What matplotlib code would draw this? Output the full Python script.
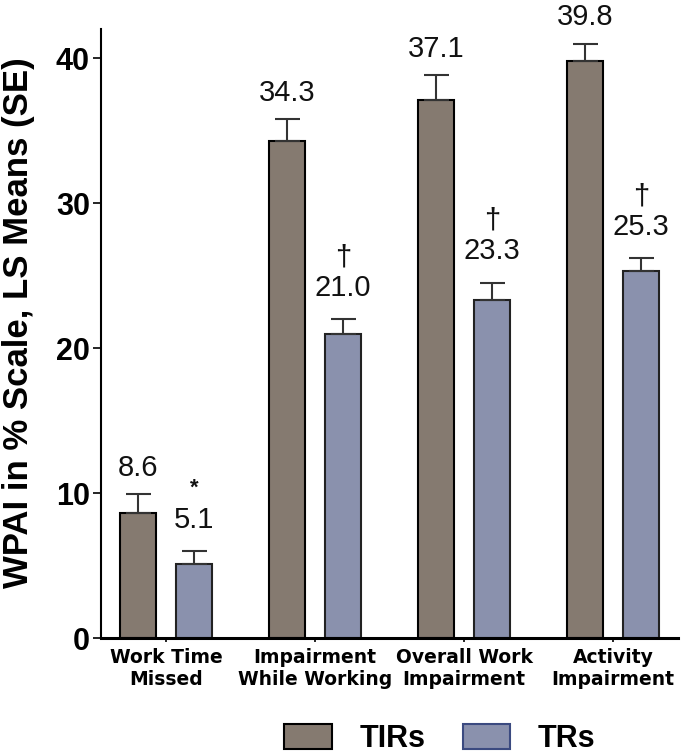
import matplotlib
matplotlib.use("Agg")
import matplotlib.pyplot as plt
import numpy as np
from matplotlib.patches import Patch

categories = ["Work Time\nMissed", "Impairment\nWhile Working", "Overall Work\nImpairment", "Activity\nImpairment"]
tir_values = [8.6, 34.3, 37.1, 39.8]
tr_values = [5.1, 21.0, 23.3, 25.3]
tir_se = [1.3, 1.5, 1.7, 1.2]
tr_se = [0.9, 1.0, 1.2, 0.9]
tr_marks = ["*", "\u2020", "\u2020", "\u2020"]
series_names = ["TIRs", "TRs"]
yticks = [0, 10, 20, 30, 40]

tir_color = "#857a70"
tr_color = "#8a91ad"

plt.rcParams['font.family'] = ['Liberation Sans', 'DejaVu Sans']

fig = plt.figure(figsize=(6.85, 7.53), dpi=100)
ax = fig.add_axes([101/685, 1-638/753, (678-101)/685, (638-29)/753])

x = np.arange(len(categories))
w = 0.24
off = 0.188

err_kw = dict(ecolor="#333333", elinewidth=1.5, capsize=9, capthick=1.5)
ax.bar(x - off, tir_values, w, color=tir_color, edgecolor="black", linewidth=1.5,
       yerr=[np.zeros(4), tir_se], error_kw=err_kw, zorder=2)
ax.bar(x + off, tr_values, w, color=tr_color, edgecolor="#222222", linewidth=1.5,
       yerr=[np.zeros(4), tr_se], error_kw=err_kw, zorder=2)

for i in range(len(categories)):
    ax.text(x[i] - off, tir_values[i] + tir_se[i] + 0.85, f"{tir_values[i]:.1f}",
            ha="center", va="bottom", fontsize=21, color="#111111")
    ax.text(x[i] + off, tr_values[i] + tr_se[i] + 1.2, f"{tr_values[i]:.1f}",
            ha="center", va="bottom", fontsize=21, color="#111111")
    if tr_marks[i] == "*":
        ax.text(x[i] + off, tr_values[i] + tr_se[i] + 3.6, "*",
                ha="center", va="bottom", fontsize=16, fontweight="bold", color="#111111")
    else:
        ax.text(x[i] + off, tr_values[i] + tr_se[i] + 3.3, "\u2020",
                ha="center", va="bottom", fontsize=21, color="#111111")

ax.set_xlim(-0.436, 3.436)
ax.set_ylim(0, 42)
ax.set_yticks(yticks)
ax.set_yticklabels([str(t) for t in yticks], fontsize=22, fontweight="bold")
ax.set_xticks(x)
ax.set_xticklabels(categories, fontsize=13.5, fontweight="bold", family="DejaVu Sans",
                   linespacing=1.25)
ax.tick_params(axis="y", length=6, width=1.2, pad=2)
ax.tick_params(axis="x", length=3, width=1.2, pad=4)
for s in ["top", "right"]:
    ax.spines[s].set_visible(False)
ax.spines["left"].set_linewidth(1.5)
ax.spines["bottom"].set_linewidth(2.2)

ax.set_ylabel("WPAI in % Scale, LS Means (SE)", fontsize=25, fontweight="bold")
ax.yaxis.set_label_coords(-0.114, 0.518)

handles = [Patch(facecolor=tir_color, edgecolor="black", linewidth=1.5),
           Patch(facecolor=tr_color, edgecolor="#3b4a80", linewidth=1.5)]
fig.legend(handles, series_names, loc="center", bbox_to_anchor=(440/685, 1-739/753),
           ncol=2, frameon=False, prop=dict(size=22, weight="bold"),
           handlelength=1.57, handleheight=0.85, handletextpad=0.9, columnspacing=1.2,
           borderpad=0)

fig.savefig("out.png", dpi=100)
